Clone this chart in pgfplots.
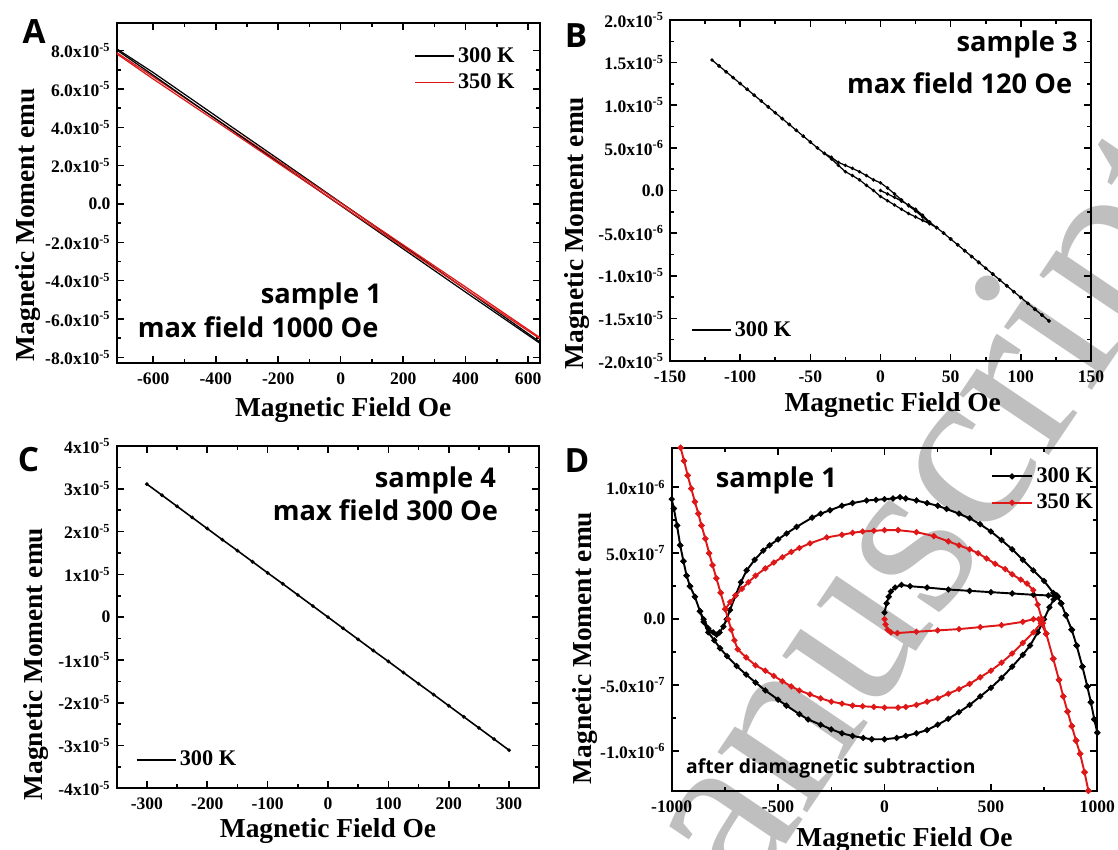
\documentclass[border=0pt]{standalone}
\usepackage{fontspec}
\setmainfont{Liberation Serif}
\newfontfamily\annfont{Open Sans}
\usepackage{pgfplots}
\pgfplotsset{compat=1.18}
\definecolor{mred}{RGB}{222,24,24}
\newcommand{\sci}[2]{#1x10\textsuperscript{#2}}

\pgfplotsset{
  panel/.style={
    scale only axis, anchor=north west, clip=true,
    scaled x ticks=false, scaled y ticks=false,
    axis line style={line width=1.1pt},
    tick style={black, line width=0.9pt},
    major tick length=0.14cm, minor tick length=0.08cm,
    tick align=inside, xtick pos=both, ytick pos=both,
    minor x tick num=1, minor y tick num=1,
    tick label style={font=\bfseries\fontsize{10}{12}\selectfont},
    xticklabel style={yshift=-2pt},
    label style={font=\bfseries\fontsize{15.6}{18}\selectfont},
    legend style={draw=none, fill=none, inner sep=0pt, outer sep=0pt,
      font=\bfseries\fontsize{12.7}{15}\selectfont, cells={anchor=west}, row sep=1pt},
    legend image code/.code={\draw[#1] (0cm,0cm) -- (0.78cm,0cm);},
  },
}
\tikzset{
  ann/.style={font=\annfont\bfseries\fontsize{15.5}{18}\selectfont, inner sep=0pt},
  letter/.style={font=\annfont\bfseries\fontsize{19}{22}\selectfont, inner sep=0pt},
}

\begin{document}
\begin{tikzpicture}
% watermark
\node[rotate=56, text=black!25, font=\fontsize{134}{135}\selectfont] at (17.85cm,-11.85cm) {manuscript};

% ---------- A ----------
\begin{axis}[panel, at={(2.334cm,-0.454cm)}, width=8.466cm, height=6.812cm,
  xmin=-717, xmax=638, ymin=-8.31e-5, ymax=9.46e-5,
  xtick={-600,-400,-200,0,200,400,600},
  xticklabels={-600,-400,-200,0,200,400,600},
  ytick={-8e-5,-6e-5,-4e-5,-2e-5,0,2e-5,4e-5,6e-5,8e-5},
  yticklabels={\sci{-8.0}{-5},\sci{-6.0}{-5},\sci{-4.0}{-5},\sci{-2.0}{-5},0.0,\sci{2.0}{-5},\sci{4.0}{-5},\sci{6.0}{-5},\sci{8.0}{-5}},
  xlabel={Magnetic Field Oe}, ylabel={Magnetic Moment emu},
  xlabel style={at={(axis description cs:0.535,-0.138)}, anchor=center},
  ylabel style={at={(axis description cs:-0.21,0.406)}, anchor=center},
  legend style={at={(axis description cs:0.948,0.938)}, anchor=north east}]
\addplot[black, line width=0.7pt] coordinates {(-717,8.10e-5) (-600,6.86e-5) (-400,4.60e-5) (-200,2.35e-5) (0,0.08e-5) (200,-2.18e-5) (400,-4.46e-5) (638,-7.20e-5)};
\addlegendentry{300 K}
\addplot[mred, line width=0.7pt] coordinates {(-717,7.90e-5) (-600,6.64e-5) (-400,4.45e-5) (-200,2.25e-5) (0,0.06e-5) (200,-2.13e-5) (400,-4.33e-5) (638,-6.97e-5)};
\addlegendentry{350 K}
\addplot[black, line width=0.7pt, forget plot] coordinates {(-717,8.04e-5) (-600,6.72e-5) (-400,4.44e-5) (-200,2.17e-5) (0,-0.08e-5) (200,-2.34e-5) (400,-4.60e-5) (638,-7.27e-5)};
\addplot[mred, line width=0.7pt, forget plot] coordinates {(-717,7.84e-5) (-600,6.52e-5) (-400,4.33e-5) (-200,2.13e-5) (0,-0.06e-5) (200,-2.25e-5) (400,-4.45e-5) (638,-7.03e-5)};
\node[ann, anchor=east] at (axis description cs:0.627,0.196) {sample 1};
\node[ann, anchor=east] at (axis description cs:0.619,0.107) {max field 1000 Oe};
\end{axis}

% ---------- B ----------
\begin{axis}[panel, at={(13.4cm,-0.4cm)}, width=8.42cm, height=6.82cm,
  xmin=-150, xmax=150, ymin=-2e-5, ymax=2e-5,
  xtick={-150,-100,-50,0,50,100,150},
  xticklabels={-150,-100,-50,0,50,100,150},
  ytick={-2e-5,-1.5e-5,-1e-5,-5e-6,0,5e-6,1e-5,1.5e-5,2e-5},
  yticklabels={\sci{-2.0}{-5},\sci{-1.5}{-5},\sci{-1.0}{-5},\sci{-5.0}{-6},0.0,\sci{5.0}{-6},\sci{1.0}{-5},\sci{1.5}{-5},\sci{2.0}{-5}},
  xlabel={Magnetic Field Oe}, ylabel={Magnetic Moment emu},
  xlabel style={at={(axis description cs:0.529,-0.129)}, anchor=center},
  ylabel style={at={(axis description cs:-0.221,0.375)}, anchor=center},
  legend style={at={(axis description cs:0.05,0.091)}, anchor=west}]
\addplot[black, line width=0.7pt, mark=*, mark size=0.6pt] coordinates {
(0,0) (5,-0.4e-6) (10,-0.8e-6) (15,-1.25e-6) (20,-1.7e-6) (25,-2.2e-6) (30,-2.9e-6) (35,-3.7e-6) (40,-4.35e-6) (45,-5.0e-6)
(50,-5.69e-6) (55,-6.37e-6) (60,-7.06e-6) (65,-7.75e-6) (70,-8.43e-6) (75,-9.12e-6) (80,-9.81e-6) (85,-10.5e-6) (90,-11.18e-6)
(95,-11.87e-6) (100,-12.55e-6) (105,-13.24e-6) (110,-13.93e-6) (115,-14.61e-6) (120,-15.3e-6)
(115,-14.61e-6) (110,-13.93e-6) (105,-13.24e-6) (100,-12.55e-6) (95,-11.87e-6) (90,-11.18e-6) (85,-10.5e-6) (80,-9.81e-6)
(75,-9.12e-6) (70,-8.43e-6) (65,-7.75e-6) (60,-7.06e-6) (55,-6.37e-6) (50,-5.69e-6) (45,-5.0e-6)
(40,-4.35e-6) (35,-3.8e-6) (30,-3.1e-6) (25,-2.4e-6) (20,-1.8e-6) (15,-1.1e-6) (10,-0.4e-6) (5,0.3e-6) (0,0.9e-6)
(-5,1.25e-6) (-10,1.75e-6) (-15,2.2e-6) (-20,2.6e-6) (-25,2.95e-6) (-30,3.3e-6) (-35,3.9e-6) (-40,4.35e-6) (-45,5.0e-6)
(-50,5.69e-6) (-55,6.37e-6) (-60,7.06e-6) (-65,7.75e-6) (-70,8.43e-6) (-75,9.12e-6) (-80,9.81e-6) (-85,10.5e-6) (-90,11.18e-6)
(-95,11.87e-6) (-100,12.55e-6) (-105,13.24e-6) (-110,13.93e-6) (-115,14.61e-6) (-120,15.3e-6)
(-115,14.61e-6) (-110,13.93e-6) (-105,13.24e-6) (-100,12.55e-6) (-95,11.87e-6) (-90,11.18e-6) (-85,10.5e-6) (-80,9.81e-6)
(-75,9.12e-6) (-70,8.43e-6) (-65,7.75e-6) (-60,7.06e-6) (-55,6.37e-6) (-50,5.69e-6) (-45,5.0e-6)
(-40,4.35e-6) (-35,3.7e-6) (-30,2.95e-6) (-25,2.2e-6) (-20,1.75e-6) (-15,1.25e-6) (-10,0.6e-6) (-5,0.0) (0,-0.7e-6)
(5,-1.2e-6) (10,-1.7e-6) (15,-2.2e-6) (20,-2.7e-6) (25,-3.1e-6) (30,-3.5e-6) (35,-3.9e-6) (40,-4.35e-6) (45,-5.0e-6)
(50,-5.69e-6) (60,-7.06e-6) (70,-8.43e-6) (80,-9.81e-6) (90,-11.18e-6) (100,-12.55e-6) (110,-13.93e-6) (120,-15.3e-6)};
\addlegendentry{300 K}
\node[ann, anchor=east] at (axis description cs:0.969,0.927) {sample 3};
\node[ann, anchor=east] at (axis description cs:0.956,0.814) {max field 120 Oe};
\end{axis}

% ---------- C ----------
\begin{axis}[panel, at={(2.334cm,-8.92cm)}, width=8.452cm, height=6.846cm,
  xmin=-350, xmax=350, ymin=-4e-5, ymax=4e-5,
  xtick={-300,-200,-100,0,100,200,300},
  xticklabels={-300,-200,-100,0,100,200,300},
  ytick={-4e-5,-3e-5,-2e-5,-1e-5,0,1e-5,2e-5,3e-5,4e-5},
  yticklabels={\sci{-4}{-5},\sci{-3}{-5},\sci{-2}{-5},\sci{-1}{-5},0,\sci{1}{-5},\sci{2}{-5},\sci{3}{-5},\sci{4}{-5}},
  xlabel={Magnetic Field Oe}, ylabel={Magnetic Moment emu},
  xlabel style={at={(axis description cs:0.5,-0.126)}, anchor=center},
  ylabel style={at={(axis description cs:-0.19,0.363)}, anchor=center},
  legend style={at={(axis description cs:0.045,0.083)}, anchor=west}]
\addplot[black, line width=0.9pt, mark=*, mark size=0.55pt] coordinates {
(-300,31.1e-6) (-275,28.5e-6) (-250,25.9e-6) (-225,23.3e-6) (-200,20.7e-6) (-175,18.1e-6) (-150,15.55e-6) (-125,12.95e-6)
(-100,10.35e-6) (-75,7.8e-6) (-50,5.2e-6) (-25,2.6e-6) (0,0) (25,-2.6e-6) (50,-5.2e-6) (75,-7.8e-6) (100,-10.35e-6)
(125,-12.95e-6) (150,-15.55e-6) (175,-18.1e-6) (200,-20.7e-6) (225,-23.3e-6) (250,-25.9e-6) (275,-28.5e-6) (300,-31.1e-6)};
\addlegendentry{300 K}
\node[ann, anchor=east] at (axis description cs:0.898,0.90) {sample 4};
\node[ann, anchor=east] at (axis description cs:0.903,0.813) {max field 300 Oe};
\end{axis}

% ---------- D ----------
\begin{axis}[panel, at={(13.434cm,-8.954cm)}, width=8.512cm, height=6.86cm,
  xmin=-1000, xmax=1000, ymin=-1.3e-6, ymax=1.3e-6,
  xtick={-1000,-500,0,500,1000},
  xticklabels={-1000,-500,0,500,1000},
  ytick={-1e-6,-5e-7,0,5e-7,1e-6},
  yticklabels={\sci{-1.0}{-6},\sci{-5.0}{-7},0.0,\sci{5.0}{-7},\sci{1.0}{-6}},
  xlabel={Magnetic Field Oe}, ylabel={Magnetic Moment emu},
  xlabel style={at={(axis description cs:0.547,-0.145)}, anchor=center},
  ylabel style={at={(axis description cs:-0.204,0.416)}, anchor=center},
  legend style={at={(axis description cs:0.998,0.952)}, anchor=north east},
  legend image code/.code={\draw[mark repeat=2,mark phase=2,#1] plot coordinates {(0cm,0cm) (0.4cm,0cm) (0.8cm,0cm)};}]
\addplot[black, line width=1.1pt, mark=*, mark size=1.1pt] coordinates {
(0,0.05e-6) (10,0.12e-6) (20,0.17e-6) (30,0.21e-6) (50,0.24e-6) (80,0.26e-6) (120,0.25e-6) (200,0.24e-6) (300,0.225e-6)
(400,0.215e-6) (500,0.205e-6) (600,0.195e-6) (700,0.185e-6) (770,0.18e-6) (800,0.175e-6) (815,0.17e-6)
(830,0.12e-6) (852,0.03e-6) (880,-0.08e-6) (903,-0.2e-6) (930,-0.36e-6) (953,-0.51e-6) (970,-0.63e-6) (986,-0.76e-6) (1000,-0.86e-6)
(986,-0.76e-6) (970,-0.63e-6) (953,-0.51e-6) (930,-0.36e-6) (903,-0.2e-6) (880,-0.08e-6) (852,0.03e-6) (830,0.12e-6) (810,0.18e-6) (793,0.2e-6)
(750,0.29e-6) (699,0.37e-6) (650,0.45e-6) (600,0.53e-6) (550,0.6e-6) (500,0.665e-6) (449,0.72e-6) (400,0.765e-6) (350,0.8e-6)
(292,0.835e-6) (250,0.86e-6) (200,0.88e-6) (150,0.9e-6) (100,0.915e-6) (73,0.925e-6) (40,0.915e-6) (0,0.91e-6) (-40,0.905e-6)
(-84,0.9e-6) (-150,0.88e-6) (-200,0.86e-6) (-256,0.826e-6) (-300,0.8e-6) (-340,0.77e-6) (-413,0.70e-6) (-460,0.65e-6) (-500,0.605e-6)
(-540,0.56e-6) (-570,0.52e-6) (-610,0.45e-6) (-648,0.37e-6) (-675,0.28e-6) (-700,0.18e-6) (-726,0.07e-6) (-742,0.0) (-757,-0.056e-6)
(-775,-0.1e-6) (-789,-0.118e-6) (-805,-0.1e-6) (-828,-0.07e-6) (-850,0.0) (-867,0.06e-6) (-891,0.17e-6) (-914,0.25e-6) (-930,0.33e-6)
(-945,0.44e-6) (-960,0.56e-6) (-975,0.71e-6) (-990,0.84e-6) (-1000,0.91e-6)
(-990,0.84e-6) (-975,0.71e-6) (-960,0.56e-6) (-945,0.44e-6) (-930,0.33e-6) (-914,0.25e-6) (-891,0.17e-6) (-867,0.06e-6) (-850,-0.02e-6) (-828,-0.1e-6)
(-800,-0.16e-6) (-773,-0.22e-6) (-740,-0.28e-6) (-695,-0.355e-6) (-650,-0.42e-6) (-606,-0.48e-6) (-560,-0.54e-6) (-500,-0.61e-6)
(-461,-0.655e-6) (-400,-0.72e-6) (-359,-0.76e-6) (-300,-0.8e-6) (-250,-0.835e-6) (-200,-0.865e-6) (-150,-0.885e-6) (-100,-0.9e-6)
(-60,-0.91e-6) (0,-0.91e-6) (57,-0.9e-6) (100,-0.885e-6) (150,-0.865e-6) (200,-0.84e-6) (250,-0.8e-6) (300,-0.755e-6) (350,-0.705e-6)
(400,-0.65e-6) (450,-0.585e-6) (500,-0.52e-6) (550,-0.445e-6) (600,-0.36e-6) (650,-0.27e-6) (684,-0.2e-6) (720,-0.1e-6) (750,0.0)
(775,0.09e-6) (795,0.15e-6) (810,0.18e-6) (830,0.12e-6) (852,0.03e-6) (880,-0.08e-6) (903,-0.2e-6) (930,-0.36e-6) (953,-0.51e-6)
(970,-0.63e-6) (986,-0.76e-6) (1000,-0.86e-6)};
\addlegendentry{300 K}
\addplot[mred, line width=1.1pt, mark=*, mark size=1.1pt] coordinates {
(0,0.0) (5,-0.04e-6) (15,-0.08e-6) (30,-0.1e-6) (60,-0.105e-6) (150,-0.095e-6) (250,-0.085e-6) (350,-0.075e-6) (450,-0.06e-6)
(550,-0.045e-6) (650,-0.02e-6) (700,0.0) (725,0.0) (745,-0.03e-6)
(760,-0.11e-6) (793,-0.3e-6) (820,-0.46e-6) (840,-0.585e-6) (860,-0.7e-6) (880,-0.81e-6) (900,-0.92e-6) (919,-1.02e-6) (940,-1.16e-6)
(958,-1.3e-6) (980,-1.45e-6) (1000,-1.58e-6)
(980,-1.45e-6) (958,-1.3e-6) (940,-1.16e-6) (919,-1.02e-6) (900,-0.92e-6) (880,-0.81e-6) (860,-0.7e-6) (840,-0.585e-6) (820,-0.46e-6)
(793,-0.3e-6) (760,-0.11e-6) (740,0.0) (720,0.11e-6) (699,0.22e-6)
(670,0.27e-6) (640,0.3e-6) (600,0.34e-6) (567,0.38e-6) (520,0.42e-6) (480,0.46e-6) (440,0.5e-6) (400,0.53e-6) (350,0.56e-6)
(300,0.59e-6) (232,0.63e-6) (150,0.66e-6) (64,0.675e-6) (0,0.675e-6) (-50,0.67e-6) (-103,0.665e-6) (-150,0.655e-6) (-200,0.64e-6)
(-271,0.62e-6) (-350,0.575e-6) (-400,0.54e-6) (-438,0.51e-6) (-480,0.47e-6) (-520,0.43e-6) (-560,0.385e-6) (-606,0.33e-6)
(-640,0.28e-6) (-670,0.23e-6) (-700,0.18e-6) (-725,0.13e-6) (-748,0.076e-6)
(-770,0.2e-6) (-790,0.31e-6) (-808,0.41e-6) (-824,0.5e-6) (-842,0.61e-6) (-860,0.71e-6) (-875,0.8e-6) (-891,0.89e-6) (-908,0.99e-6)
(-925,1.09e-6) (-942,1.2e-6) (-958,1.3e-6) (-980,1.43e-6) (-1000,1.55e-6)
(-980,1.43e-6) (-958,1.3e-6) (-942,1.2e-6) (-925,1.09e-6) (-908,0.99e-6) (-891,0.89e-6) (-875,0.8e-6) (-860,0.71e-6) (-842,0.61e-6)
(-824,0.5e-6) (-808,0.41e-6) (-790,0.31e-6) (-770,0.2e-6) (-748,0.076e-6) (-735,0.0) (-720,-0.08e-6) (-705,-0.16e-6) (-690,-0.228e-6)
(-650,-0.29e-6) (-606,-0.35e-6) (-560,-0.39e-6) (-520,-0.43e-6) (-480,-0.47e-6) (-438,-0.51e-6) (-400,-0.54e-6) (-350,-0.57e-6)
(-300,-0.6e-6) (-250,-0.625e-6) (-200,-0.64e-6) (-150,-0.655e-6) (-103,-0.66e-6) (-50,-0.665e-6) (0,-0.67e-6) (64,-0.67e-6)
(100,-0.665e-6) (150,-0.65e-6) (200,-0.625e-6) (250,-0.6e-6) (300,-0.565e-6) (350,-0.53e-6) (400,-0.49e-6) (450,-0.44e-6)
(500,-0.39e-6) (550,-0.33e-6) (600,-0.26e-6) (650,-0.18e-6) (700,-0.1e-6) (735,-0.03e-6) (760,-0.11e-6) (793,-0.3e-6) (820,-0.46e-6)
(840,-0.585e-6) (860,-0.7e-6) (880,-0.81e-6) (900,-0.92e-6) (919,-1.02e-6) (940,-1.16e-6) (958,-1.3e-6) (980,-1.45e-6) (1000,-1.58e-6)};
\addlegendentry{350 K}
\node[ann, anchor=west] at (axis description cs:0.103,0.906) {sample 1};
\node[ann, anchor=west, font=\annfont\bfseries\fontsize{11}{13}\selectfont] at (axis description cs:0.033,0.065) {after diamagnetic subtraction};
\end{axis}

% panel letters
\node[letter] at (0.684cm,-0.634cm) {A};
\node[letter] at (11.52cm,-0.72cm) {B};
\node[letter] at (0.572cm,-9.2cm) {C};
\node[letter] at (11.54cm,-9.22cm) {D};

\pgfresetboundingbox
\path[use as bounding box] (0,0) rectangle (22.36cm,-17cm);
\end{tikzpicture}
\end{document}
